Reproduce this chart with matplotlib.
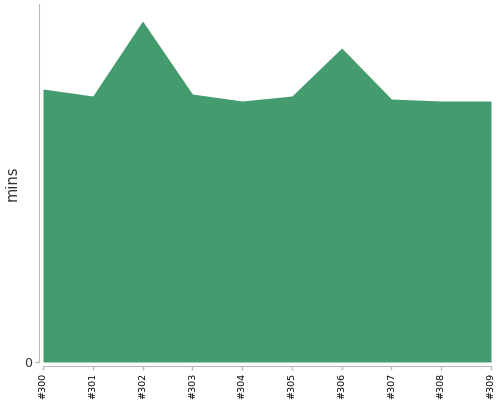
import matplotlib
matplotlib.use("Agg")
import matplotlib.pyplot as plt

# builds / durations
builds = ["#300", "#301", "#302", "#303", "#304",
          "#305", "#306", "#307", "#308", "#309"]
mins = [27.3, 26.6, 34.1, 26.8, 26.1, 26.6, 31.4, 26.3, 26.1, 26.1]

green = "#449c6e"
grey = "#bbbbbb"
text = "#333333"

fig = plt.figure(figsize=(5, 4), dpi=100)
ax = fig.add_axes([43 / 500, 38 / 400, 448 / 500, 358 / 400])

x = list(range(len(builds)))
ax.fill_between(x, mins, 0, color=green, linewidth=0)

ax.set_xlim(0, len(builds) - 1)
ax.set_ylim(0, 35.8)

for side in ("top", "right"):
    ax.spines[side].set_visible(False)
for side in ("left", "bottom"):
    ax.spines[side].set_position(("outward", 3))
    ax.spines[side].set_color(grey)
ax.tick_params(axis="both", colors=grey, length=3, width=1)
ax.tick_params(axis="x", labelcolor="black", pad=1.5, labelrotation=90,
               labelsize=6.8)
ax.tick_params(axis="y", labelcolor=text, pad=2, labelsize=9)

ax.set_xticks(x)
ax.set_xticklabels(builds)
ax.set_yticks([0])
ax.set_yticklabels(["0"])
ax.set_ylabel("mins", fontsize=10.5, color=text, labelpad=3)

fig.savefig("out.png", dpi=100)
